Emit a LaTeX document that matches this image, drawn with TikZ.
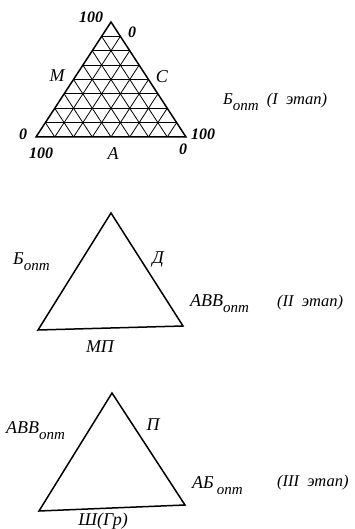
\documentclass[tikz,border=0pt]{standalone}
\usepackage{fontspec}
\setmainfont{Liberation Serif}
\usetikzlibrary{calc}
\tikzset{
  tri edge/.style={line width=1.5pt, line join=miter},
  grid line/.style={line width=0.8pt},
  tick label/.style={font=\fontsize{16}{18}\selectfont\bfseries\itshape, inner sep=0pt},
  side label/.style={font=\fontsize{18}{20}\selectfont\itshape, inner sep=0pt},
  stage label/.style={font=\fontsize{16.5}{18}\selectfont\itshape, inner sep=0pt, anchor=west},
}
\newcommand{\opt}{\raisebox{-0.7ex}{\fontsize{15}{17}\selectfont опт}}

\begin{document}
\begin{tikzpicture}[x=1pt,y=-1pt]
  \useasboundingbox (0,0) rectangle (354,529);

  % stage I: grid triangle
  \coordinate (ap1) at (111,22);
  \coordinate (bl1) at (36,137);
  \coordinate (br1) at (186,137);
  \foreach \k in {1,...,7} {
    \draw[grid line] ($(ap1)!\k/8!(bl1)$) -- ($(ap1)!\k/8!(br1)$);
    \draw[grid line] ($(bl1)!\k/8!(br1)$) -- ($(ap1)!\k/8!(br1)$);
    \draw[grid line] ($(bl1)!\k/8!(br1)$) -- ($(ap1)!1-\k/8!(bl1)$);
  }
  \draw[tri edge] (ap1) -- (bl1) -- (br1) -- cycle;
  \node[tick label] (top100) at (91,17) {100};
  \node[tick label] (top0) at (132,32) {0};
  \node[tick label] (left0) at (23,134) {0};
  \node[tick label] (right100) at (203,134) {100};
  \node[tick label] (low100) at (41,153) {100};
  \node[tick label] (low0) at (183,149) {0};
  \node[side label] (labM) at (57,76) {М};
  \node[side label] (labC) at (162,77) {С};
  \node[side label] (labA) at (113,154) {А};
  \node[stage label] (stage1) at (223,102) {Б\opt\hspace{8pt}(I\ \ этап)};

  % stage II
  \coordinate (ap2) at (111,213);
  \coordinate (bl2) at (38,330);
  \coordinate (br2) at (183,326);
  \draw[tri edge] (ap2) -- (bl2) -- (br2) -- cycle;
  \node[side label, anchor=west] (labB2) at (13,262) {Б\opt};
  \node[side label] (labD) at (158,259) {Д};
  \node[side label, anchor=west] (labAVV2) at (190,304) {АВВ\opt};
  \node[stage label] (stage2) at (277,303) {(II\ \ этап)};
  \node[side label] (labMP) at (100,347) {МП};

  % stage III
  \coordinate (ap3) at (112,393);
  \coordinate (bl3) at (39,511);
  \coordinate (br3) at (185,505);
  \draw[tri edge] (ap3) -- (bl3) -- (br3) -- cycle;
  \node[side label, anchor=west] (labAVV3) at (6,431) {АВВ\opt};
  \node[side label] (labP) at (153,425) {П};
  \node[side label, anchor=west] (labAB3) at (192,486) {АБ\,\opt};
  \node[stage label] (stage3) at (277,483) {(III\ \ этап)};
  \node[side label] (labSh) at (103,521) {Ш(Гр)};
\end{tikzpicture}
\end{document}
